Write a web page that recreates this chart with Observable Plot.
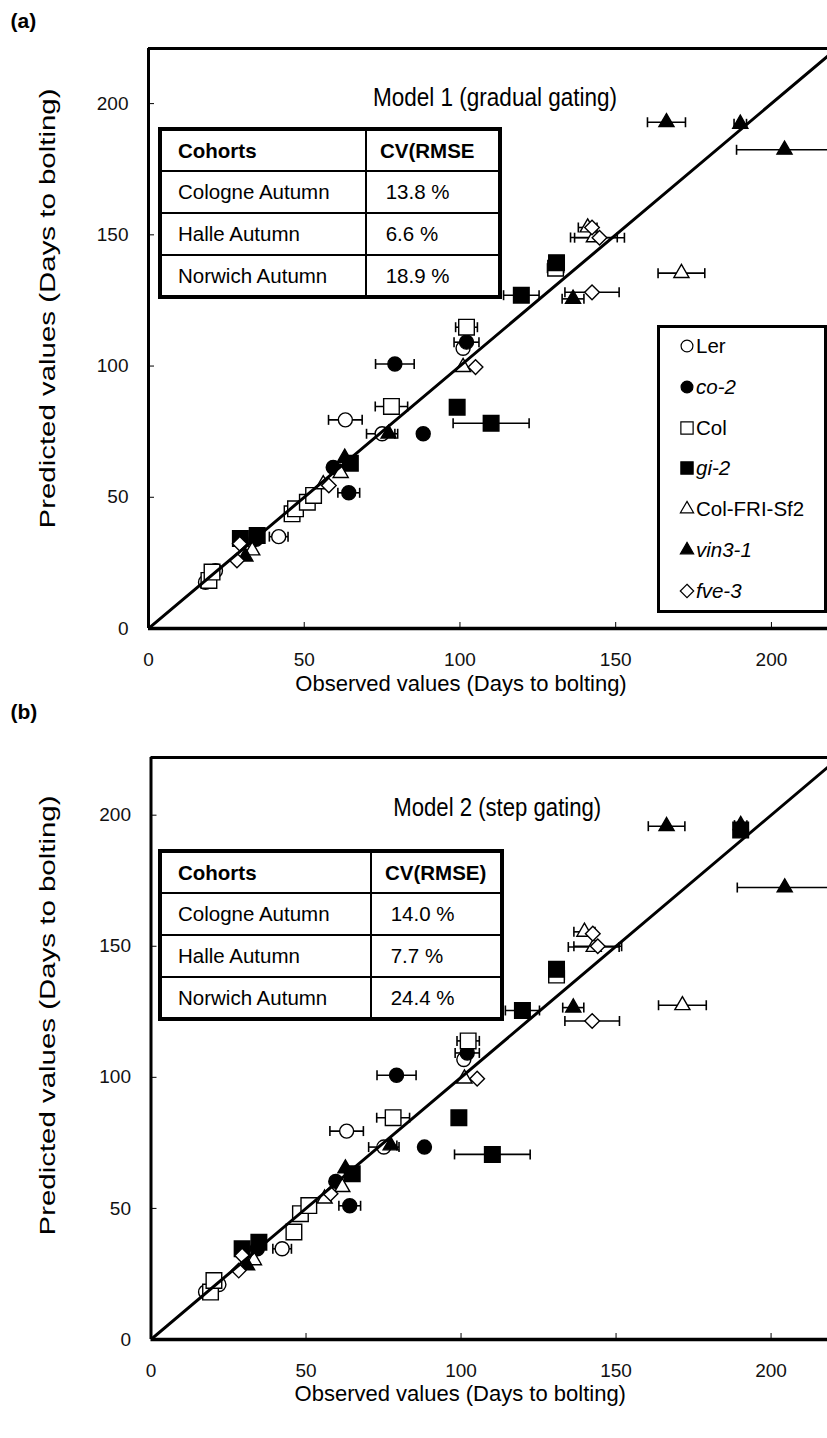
<!DOCTYPE html>
<html><head><meta charset="utf-8">
<script src="https://cdn.jsdelivr.net/npm/d3@7"></script>
<script src="https://cdn.jsdelivr.net/npm/@observablehq/plot@0.6"></script>
<style>
html,body{margin:0;padding:0;background:#fff;}
#wrap{position:relative;width:827px;height:1438px;overflow:hidden;font-family:"Liberation Sans",Arial,sans-serif;color:#000;background:#fff;}
.panel{position:absolute;left:0;}
.panel svg{overflow:visible;display:block;}
table.cv{position:absolute;border-collapse:collapse;border:4px solid #000;font-size:20.5px;background:#fff;table-layout:fixed;}
table.cv td{border:2px solid #000;padding:0;white-space:pre;overflow:hidden;}
table.cv tr.hd td{font-weight:bold;}
.legend{position:absolute;border:3px solid #000;background:#fff;box-sizing:border-box;}
.legend .it{position:absolute;left:0;height:24px;display:flex;align-items:center;font-size:20.5px;white-space:nowrap;}
.legend .it svg{margin-right:1px;}
</style></head>
<body>
<div id="wrap"></div>
<script>
// ---------- data ----------
const tickValues = [0, 50, 100, 150, 200];
const genotypes = ["Ler", "co-2", "Col", "gi-2", "Col-FRI-Sf2", "vin3-1", "fve-3"];
const genotypeItalic = [false, true, false, true, false, true, true];
const cohorts = ["Cologne Autumn", "Halle Autumn", "Norwich Autumn"];
const tableHeaderA = ["Cohorts", "CV(RMSE"];
const tableHeaderB = ["Cohorts", "CV(RMSE)"];
const cvModel1 = [" 13.8 %", " 6.6 %", " 18.9 %"];
const cvModel2 = [" 14.0 %", " 7.7 %", " 24.4 %"];
const panelLabels = ["(a)", "(b)"];
const modelTitles = ["Model 1 (gradual gating)", "Model 2 (step gating)"];
const xTitle = "Observed values (Days to bolting)";
const yTitle = "Predicted values (Days to bolting)";

// Model 1 (gradual gating): per genotype, in the order of `genotypes`
const m1Observed = [
  [18.3, 21.5, 41.8, 63.2, 75.0, 101.0],
  [34.5, 59.3, 64.3, 79.1, 88.2, 102.1],
  [19.4, 20.4, 46.1, 47.2, 51.0, 53.0, 78.0, 102.1, 130.7],
  [29.5, 34.9, 64.8, 99.1, 110.0, 119.7, 131.0],
  [33.3, 56.1, 61.7, 101.0, 141.0, 143.0, 171.1],
  [31.1, 63.0, 77.1, 136.3, 166.3, 190.0, 204.2],
  [28.4, 29.3, 57.9, 105.0, 142.4, 142.4, 144.8]
];
const m1Predicted = [
  [17.6, 22.0, 35.0, 79.5, 74.2, 106.8],
  [34.0, 61.4, 51.7, 100.8, 74.2, 109.1],
  [18.3, 21.5, 43.7, 45.6, 48.1, 50.7, 84.6, 114.8, 137.3],
  [34.3, 35.4, 63.0, 84.3, 78.2, 127.0, 139.4],
  [29.7, 54.9, 59.2, 99.6, 152.8, 149.0, 135.4],
  [27.4, 65.0, 74.2, 125.6, 192.9, 192.3, 182.4],
  [25.9, 32.3, 54.5, 99.6, 152.8, 128.1, 148.9]
];
const m1Error = [
  [0, 0, 3.0, 5.4, 5.0, 0],
  [0, 0, 3.5, 6.2, 0, 4.0],
  [0, 0, 0, 0, 0, 0, 5.2, 3.5, 2.6],
  [0, 0, 0, 0, 12.2, 5.7, 0],
  [0, 0, 0, 0, 3.0, 7.5, 7.5],
  [0, 0, 2.0, 3.5, 6.1, 2.0, 15.4],
  [0, 0, 0, 0, 0, 8.7, 8.0]
];

// Model 2 (step gating)
const m2Observed = [
  [17.6, 21.9, 42.3, 63.1, 75.1, 100.9],
  [34.3, 59.6, 64.1, 79.2, 88.2, 102.0],
  [19.2, 20.3, 46.1, 48.2, 50.9, 78.1, 102.3, 130.8],
  [29.4, 34.8, 64.9, 99.3, 110.1, 119.8, 130.8, 190.2],
  [33.2, 56.0, 61.7, 101.1, 139.8, 142.8, 171.4],
  [31.0, 62.7, 77.3, 136.2, 166.3, 190.2, 204.4],
  [28.3, 29.4, 57.9, 105.2, 142.5, 142.3, 144.1]
];
const m2Predicted = [
  [18.1, 21.0, 34.6, 79.5, 73.4, 106.8],
  [34.6, 60.3, 51.0, 100.8, 73.4, 109.3],
  [18.1, 22.5, 41.0, 48.0, 51.1, 84.6, 113.9, 139.0],
  [34.6, 37.1, 63.2, 84.6, 70.6, 125.5, 141.2, 194.3],
  [30.2, 53.7, 58.1, 99.5, 155.5, 149.7, 127.5],
  [28.2, 65.2, 74.0, 126.6, 195.8, 196.2, 172.4],
  [26.3, 32.0, 55.6, 99.5, 154.8, 121.5, 150.0]
];
const m2Error = [
  [0, 0, 3.0, 5.4, 4.9, 0],
  [0, 0, 3.5, 6.3, 0, 3.9],
  [0, 0, 0, 0, 0, 5.3, 3.6, 2.5],
  [0, 0, 0, 0, 12.2, 5.5, 0, 0],
  [0, 0, 0, 0, 3.4, 8.2, 7.7],
  [0, 0, 2.0, 3.4, 5.9, 2.0, 15.3],
  [0, 0, 0, 0, 0, 8.8, 7.7]
];

// ---------- styles ----------
const symbolOf = ["circle", "circle", "square", "square", "triangle2", "triangle2", "diamond2"];
const filledOf = [false, true, false, true, false, true, false];
const radiusOf = [7, 7, 8.8, 8.8, 7.2, 7.2, 6.6];
const FONT = "'Liberation Sans', Arial, sans-serif";

const capSymbol = {draw(ctx, size) { const r = Math.sqrt(size / Math.PI); ctx.moveTo(0, -r); ctx.lineTo(0, r); }};

function rowsOf(obs, pred, err) {
  return genotypes.flatMap((g, gi) => obs[gi].map((o, j) => ({g, gi, obs: o, pred: pred[gi][j], err: err[gi][j]})));
}

function makePanel(p) {
  const rows = rowsOf(p.obs, p.pred, p.err);
  const withErr = rows.filter(d => d.err > 0);
  const caps = withErr.flatMap(d => [{x: d.obs - d.err, y: d.pred}, {x: d.obs + d.err, y: d.pred}]);
  const innerW = p.width - p.marginLeft - p.marginRight;
  const innerH = p.height - p.marginTop - p.marginBottom;
  const diag = [0, Math.max(p.xMax, p.yMax) + 10];
  const marks = [
    Plot.tickY(tickValues.slice(1), {y: d => d, insetRight: innerW - 6, stroke: "black", strokeWidth: 1}),
    Plot.tickX(tickValues.slice(1), {x: d => d, insetTop: innerH - 6, stroke: "black", strokeWidth: 1}),
    Plot.link(withErr, {x1: d => d.obs - d.err, x2: d => d.obs + d.err, y1: "pred", y2: "pred", stroke: "black", strokeWidth: 1.6, clip: true}),
    Plot.dot(caps, {x: "x", y: "y", symbol: capSymbol, r: 5, stroke: "black", strokeWidth: 1.6, clip: true}),
    ...genotypes.map((g, gi) => Plot.dot(rows.filter(d => d.gi === gi), {
      x: "obs", y: "pred", symbol: symbolOf[gi], r: radiusOf[gi],
      fill: filledOf[gi] ? "black" : "white", stroke: "black", strokeWidth: 1.4
    })),
    Plot.line(diag, {x: d => d, y: d => d, stroke: "black", strokeWidth: 3, clip: true}),
    Plot.ruleX([0], {stroke: "black", strokeWidth: 3}),
    Plot.ruleY([0], {stroke: "black", strokeWidth: 3.5}),
    Plot.ruleY([p.yMax], {stroke: "black", strokeWidth: 3}),
    Plot.axisY(tickValues, {tickSize: 0, tickPadding: 20, fontSize: 19, fill: "#111"}),
    Plot.axisX(tickValues, {tickSize: 0, tickPadding: 24, fontSize: 19, fill: "#111"}),
    Plot.text([p.label], {frameAnchor: "top-left", dx: p.labelDx, dy: p.labelDy, text: d => d, textAnchor: "start", lineAnchor: "middle", fontSize: 21, fontWeight: "bold"}),
    Plot.text([p.title], {frameAnchor: "top", dx: p.titleDx, dy: p.titleDy, text: d => d, textAnchor: "middle", lineAnchor: "middle", fontSize: 25, fill: "black"}),
    Plot.text([xTitle], {frameAnchor: "bottom", dx: p.xTitleDx, dy: p.xTitleDy, text: d => d, textAnchor: "middle", lineAnchor: "middle", fontSize: 22}),
    Plot.text([yTitle], {frameAnchor: "left", dx: p.yTitleDx, dy: p.yTitleDy, text: d => d, rotate: -90, textAnchor: "middle", lineAnchor: "middle", fontSize: 22})
  ];
  const svg = Plot.plot({
    width: p.width, height: p.height,
    marginLeft: p.marginLeft, marginRight: p.marginRight, marginTop: p.marginTop, marginBottom: p.marginBottom,
    x: {domain: [0, p.xMax]}, y: {domain: [0, p.yMax]},
    style: {fontFamily: FONT, fontSize: "18px", color: "black", background: "transparent", overflow: "visible"},
    marks
  });
  d3.select(svg).selectAll("text").each(function() {
    const t = this.textContent;
    if (t === yTitle) d3.select(this).attr("textLength", p.yTitleLen).attr("lengthAdjust", "spacingAndGlyphs");
    if (t === p.title) d3.select(this).attr("textLength", p.titleLen).attr("lengthAdjust", "spacingAndGlyphs");
  });
  return svg;
}

function makeTable(header, values, pos) {
  const t = document.createElement("table");
  t.className = "cv";
  t.style.left = pos.left + "px"; t.style.top = pos.top + "px";
  t.style.width = (pos.c1 + pos.c2) + "px";
  const cg = document.createElement("colgroup");
  [pos.c1, pos.c2].forEach(w => { const c = document.createElement("col"); c.style.width = w + "px"; cg.appendChild(c); });
  t.appendChild(cg);
  const addRow = (cells, cls) => {
    const tr = document.createElement("tr");
    if (cls) tr.className = cls;
    tr.style.height = pos.rowH + "px";
    cells.forEach((txt, i) => {
      const td = document.createElement("td");
      td.textContent = txt;
      td.style.paddingLeft = (i === 0 ? pos.p1 : pos.p2) + "px";
      tr.appendChild(td);
    });
    t.appendChild(tr);
  };
  addRow(header, "hd");
  cohorts.forEach((c, i) => addRow([c, values[i]]));
  return t;
}

function makeLegend(pos) {
  const box = document.createElement("div");
  box.className = "legend";
  Object.assign(box.style, {left: pos.left + "px", top: pos.top + "px", width: pos.width + "px", height: pos.height + "px"});
  const d3sym = {circle: d3.symbolCircle, square: d3.symbolSquare, triangle2: d3.symbolTriangle2, diamond2: d3.symbolDiamond2};
  const legendSize = [110, 110, 150, 150, 125, 125, 115];
  genotypes.forEach((g, gi) => {
    const it = document.createElement("div");
    it.className = "it";
    it.style.top = (pos.firstY + gi * pos.step - 12) + "px";
    it.style.left = pos.symX + "px";
    const ns = "http://www.w3.org/2000/svg";
    const s = document.createElementNS(ns, "svg");
    s.setAttribute("width", 16); s.setAttribute("height", 16);
    s.style.overflow = "visible";
    const path = document.createElementNS(ns, "path");
    path.setAttribute("transform", "translate(8,8)");
    path.setAttribute("d", d3.symbol(d3sym[symbolOf[gi]], legendSize[gi])());
    path.setAttribute("fill", filledOf[gi] ? "black" : "white");
    path.setAttribute("stroke", "black");
    path.setAttribute("stroke-width", 1.2);
    s.appendChild(path);
    it.appendChild(s);
    const sp = document.createElement("span");
    sp.textContent = g;
    if (genotypeItalic[gi]) sp.style.fontStyle = "italic";
    it.appendChild(sp);
    box.appendChild(it);
  });
  return box;
}

const wrap = document.getElementById("wrap");

const pa = document.createElement("div"); pa.className = "panel"; pa.style.top = "0px";
pa.appendChild(makePanel({
  obs: m1Observed, pred: m1Predicted, err: m1Error,
  label: panelLabels[0], title: modelTitles[0],
  width: 827, height: 690, marginLeft: 148, marginRight: 0, marginTop: 48, marginBottom: 62,
  xMax: 218, yMax: 221,
  labelDx: -138, labelDy: -27, titleDx: 7, titleDy: 49, titleLen: 244,
  xTitleDx: -27, xTitleDy: 55, yTitleDx: -101, yTitleDy: -30, yTitleLen: 440
}));
wrap.appendChild(pa);

const pb = document.createElement("div"); pb.className = "panel"; pb.style.top = "690px";
pb.appendChild(makePanel({
  obs: m2Observed, pred: m2Predicted, err: m2Error,
  label: panelLabels[1], title: modelTitles[1],
  width: 827, height: 748, marginLeft: 150.5, marginRight: 0, marginTop: 67, marginBottom: 99,
  xMax: 218.2, yMax: 222,
  labelDx: -140.5, labelDy: -45, titleDx: 8, titleDy: 50, titleLen: 208,
  xTitleDx: -29, xTitleDy: 54, yTitleDx: -103, yTitleDy: -33, yTitleLen: 440
}));
wrap.appendChild(pb);

wrap.appendChild(makeTable(tableHeaderA, cvModel1, {left: 158, top: 127, c1: 206, c2: 134, rowH: 42, p1: 16, p2: 13}));
wrap.appendChild(makeTable(tableHeaderB, cvModel2, {left: 158, top: 849, c1: 211, c2: 131, rowH: 42, p1: 16, p2: 13}));
wrap.appendChild(makeLegend({left: 657, top: 325, width: 170, height: 288, firstY: 18, step: 40.8, symX: 19}));
</script>
</body></html>
